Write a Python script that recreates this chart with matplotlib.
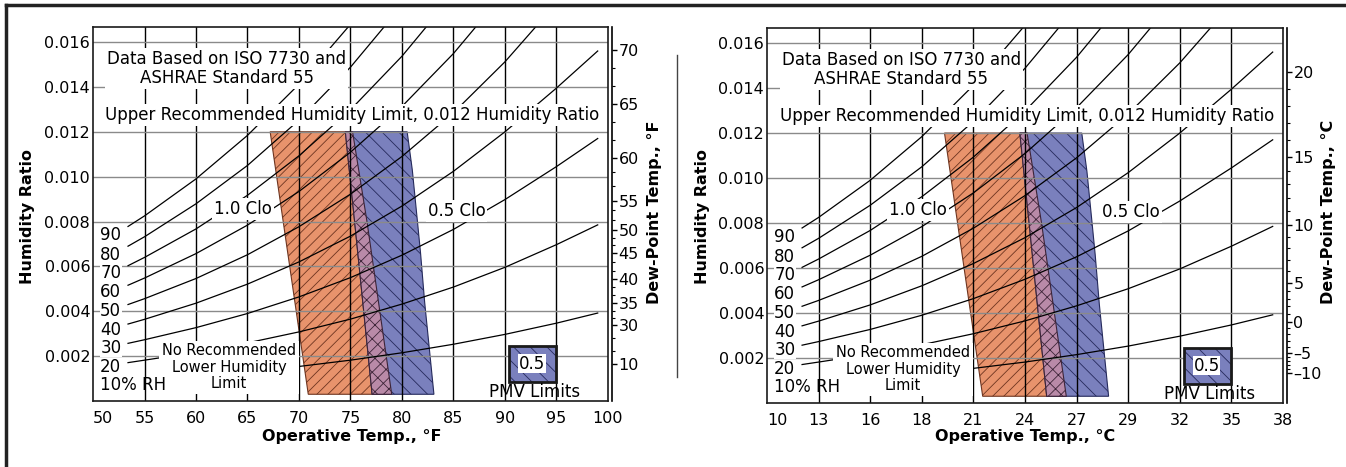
import numpy as np
import matplotlib.pyplot as plt
from matplotlib.patches import Polygon, Rectangle
from matplotlib.lines import Line2D

nan = np.nan

# operative temperature (F) at which the RH curves were read
temp_f = [53.4, 55, 60, 65, 70, 75, 80, 85, 90, 95, 99]
# humidity ratio of each relative humidity curve
rh_10 = [nan, nan, 0.00109, 0.00129, 0.00154, 0.00182, 0.00215, 0.00253, 0.00297, 0.00347, 0.00392]
rh_20 = [0.00171, 0.00182, 0.00217, 0.00259, 0.00308, 0.00365, 0.00432, 0.00508, 0.00596, 0.00697, 0.00785]
rh_30 = [0.00257, 0.00273, 0.00327, 0.00390, 0.00464, 0.00550, 0.00650, 0.00765, 0.00898, 0.01045, 0.01170]
rh_40 = [0.00343, 0.00364, 0.00436, 0.00521, 0.00620, 0.00735, 0.00869, 0.01024, 0.01200, 0.01395, 0.01560]
rh_50 = [0.00430, 0.00456, 0.00546, 0.00652, 0.00777, 0.00922, 0.01090, 0.01285, 0.01512, 0.01773, nan]
rh_60 = [0.00516, 0.00548, 0.00657, 0.00784, 0.00934, 0.01109, 0.01313, 0.01549, 0.01823, nan, nan]
rh_70 = [0.00603, 0.00640, 0.00767, 0.00917, 0.01093, 0.01298, 0.01537, 0.01814, nan, nan, nan]
rh_80 = [0.00690, 0.00732, 0.00879, 0.01050, 0.01252, 0.01488, 0.01763, nan, nan, nan, nan]
rh_90 = [0.00778, 0.00825, 0.00990, 0.01184, 0.01412, 0.01679, nan, nan, nan, nan, nan]

rh_labels = ['90', '80', '70', '60', '50', '40', '30', '20', '10% RH']
rh_label_w = [0.00738, 0.00649, 0.00569, 0.00484, 0.0040, 0.00316, 0.00236, 0.00151, 0.00071]

# comfort zone edges: temperature (F) and humidity ratio
clo10_left_t = [67.2, 70.9]
clo10_left_w = [0.012, 0.0003]
clo10_right_t = [75.2, 76.6, 79.0]
clo10_right_w = [0.012, 0.008, 0.0003]
clo05_left_t = [74.5, 75.4, 77.1]
clo05_left_w = [0.012, 0.008, 0.0003]
clo05_right_t = [80.5, 81.0, 81.5, 81.8, 82.2, 83.1]
clo05_right_w = [0.012, 0.0103, 0.008, 0.0066, 0.0044, 0.0003]

# axes ticks
x_ticks = [50, 55, 60, 65, 70, 75, 80, 85, 90, 95, 100]
x_labels_f = ['50', '55', '60', '65', '70', '75', '80', '85', '90', '95', '100']
x_labels_c = ['10', '13', '16', '18', '21', '24', '27', '29', '32', '35', '38']
w_ticks = [0.002, 0.004, 0.006, 0.008, 0.010, 0.012, 0.014, 0.016]

dew_f = ['70', '65', '60', '55', '50', '45', '40', '35', '30', '10']
dew_f_w = [0.01564, 0.01324, 0.01084, 0.00893, 0.00764, 0.00658, 0.00542, 0.00436, 0.00338, 0.00164]
dew_c = ['20', '15', '10', '5', '0', '\u20135', '\u201310']
dew_c_w = [0.01471, 0.01093, 0.00791, 0.00533, 0.00360, 0.00222, 0.00133]

orange = '#e8936c'
blue = '#7a80bd'
pink = '#b98aa8'

plt.rcParams['hatch.linewidth'] = 0.6
plt.rcParams['font.family'] = 'DejaVu Sans'

fig = plt.figure(figsize=(13.46, 4.67), dpi=100)


def to_fig(px, py):
    return px / 1346, 1 - py / 467


def draw_panel(ax, x_labels, dew_labels, dew_w, n_minor):
    ax.set_xlim(50, 100)
    ax.set_ylim(0, 0.01667)

    # comfort zones
    poly10 = list(zip(clo10_left_t, clo10_left_w)) + list(zip(clo10_right_t, clo10_right_w))[::-1]
    poly05 = list(zip(clo05_left_t, clo05_left_w)) + list(zip(clo05_right_t, clo05_right_w))[::-1]
    overlap = list(zip(clo05_left_t, clo05_left_w)) + list(zip(clo10_right_t, clo10_right_w))[::-1]
    ax.add_patch(Polygon(poly10, closed=True, facecolor=orange, edgecolor='#6e3520',
                         hatch='///', lw=0.8, zorder=1))
    ax.add_patch(Polygon(poly05, closed=True, facecolor=blue, edgecolor='#252a5c',
                         hatch='\\\\', lw=0.8, zorder=1))
    ax.add_patch(Polygon(overlap, closed=True, facecolor=pink, edgecolor='#3d2438',
                         hatch='///\\\\', lw=0.8, zorder=1))

    # grid
    for x in x_ticks[1:-1]:
        ax.axvline(x, color='black', lw=1.0, zorder=1.5)
    for w in w_ticks:
        ax.axhline(w, color='#8a8a8a', lw=1.0, zorder=1.5)

    # RH curves
    for curve in [rh_10, rh_20, rh_30, rh_40, rh_50, rh_60, rh_70, rh_80, rh_90]:
        ax.plot(temp_f, curve, color='black', lw=0.9, zorder=2)

    box = dict(facecolor='white', edgecolor='none', pad=1.5)
    for lab, w in zip(rh_labels, rh_label_w):
        if 'RH' in lab:
            ax.text(50.7, w, lab, fontsize=12, ha='left', va='center', zorder=6)
        else:
            ax.text(50.7, w, lab, fontsize=12, ha='left', va='center', zorder=5,
                    bbox=dict(facecolor='white', edgecolor='none', pad=0.3))

    ax.text(63.0, 0.01482, 'Data Based on ISO 7730 and\nASHRAE Standard 55', fontsize=12,
            ha='center', va='center', linespacing=1.05, zorder=5, bbox=box)
    ax.text(75.2, 0.01276, 'Upper Recommended Humidity Limit, 0.012 Humidity Ratio',
            fontsize=12, ha='center', va='center', zorder=5, bbox=box)
    ax.text(64.6, 0.00858, '1.0 Clo', fontsize=12, ha='center', va='center', zorder=5, bbox=box)
    ax.text(85.3, 0.00849, '0.5 Clo', fontsize=12, ha='center', va='center', zorder=5, bbox=box)
    ax.text(63.2, 0.00151, 'No Recommended\nLower Humidity\nLimit', fontsize=10.5,
            ha='center', va='center', linespacing=1.1, zorder=5,
            bbox=dict(facecolor='white', edgecolor='none', pad=2))

    # PMV legend
    ax.add_patch(Rectangle((90.4, 0.00084), 4.55, 0.0016, facecolor=blue, edgecolor='#252a5c',
                           hatch='\\\\', lw=0, zorder=4))
    ax.add_patch(Rectangle((90.4, 0.00084), 4.55, 0.0016, facecolor='none', edgecolor='#1a1a1a',
                           lw=2, zorder=4.5))
    ax.text(92.6, 0.00166, '0.5', fontsize=12, ha='center', va='center', zorder=5,
            bbox=dict(facecolor='white', edgecolor='none', pad=0.5))
    ax.text(92.9, 0.0004, 'PMV Limits', fontsize=12, ha='center', va='center', zorder=5)

    ax.set_xticks(x_ticks)
    ax.set_xticklabels(x_labels)
    ax.get_xticklabels()[0].set_ha('left')
    ax.set_yticks(w_ticks)
    ax.set_yticklabels(['%.3f' % w for w in w_ticks])
    ax.tick_params(axis='x', length=0, pad=7, labelsize=11.5)
    ax.tick_params(axis='y', length=0, pad=2, labelsize=11.5)
    for s in ax.spines.values():
        s.set_linewidth(1.2)
        s.set_color('#1a1a1a')

    ax2 = ax.twinx()
    ax2.set_ylim(0, 0.01667)
    ax2.set_yticks(dew_w)
    ax2.set_yticklabels(dew_labels)
    minor = []
    for a, b in zip(dew_w[:-1], dew_w[1:]):
        minor += list(np.linspace(a, b, n_minor + 2)[1:-1])
    ax2.set_yticks(minor, minor=True)
    ax2.tick_params(axis='y', which='major', length=3.5, width=1, pad=1,
                    direction='out', labelsize=11.5)
    ax2.tick_params(axis='y', which='minor', length=2.2, width=0.8, direction='out')
    ax2.spines['right'].set_position(('outward', 3))
    ax2.spines['right'].set_linewidth(1.2)
    for k in ['left', 'top', 'bottom']:
        ax2.spines[k].set_visible(False)


ax_f = fig.add_axes([93 / 1346, 66 / 467, 515 / 1346, 374 / 467])
draw_panel(ax_f, x_labels_f, dew_f, dew_f_w, 2)
ax_c = fig.add_axes([767 / 1346, 64 / 467, 516 / 1346, 375 / 467])
draw_panel(ax_c, x_labels_c, dew_c, dew_c_w, 4)

# axis titles
bold = dict(fontsize=11.5, fontweight='bold', ha='center', va='center')
fig.text(*to_fig(28, 216), 'Humidity Ratio', rotation=90, **bold)
fig.text(*to_fig(352, 437), 'Operative Temp., \u00b0F', **bold)
fig.text(*to_fig(655, 212), 'Dew-Point Temp., \u00b0F', rotation=90, **bold)
fig.text(*to_fig(703, 216), 'Humidity Ratio', rotation=90, **bold)
fig.text(*to_fig(1025, 437), 'Operative Temp., \u00b0C', **bold)
fig.text(*to_fig(1328, 212), 'Dew-Point Temp., \u00b0C', rotation=90, **bold)

# frame and separator
fig.add_artist(Line2D([6 / 1346, 1], [1 - 5 / 467, 1 - 5 / 467], color='#222222', lw=2.5))
fig.add_artist(Line2D([6 / 1346, 6 / 1346], [1 - 5 / 467, 0], color='#222222', lw=2.5))
fig.add_artist(Line2D([677 / 1346, 677 / 1346], [1 - 55 / 467, 1 - 377 / 467], color='#444444', lw=1))

fig.savefig('out.png', dpi=100)
